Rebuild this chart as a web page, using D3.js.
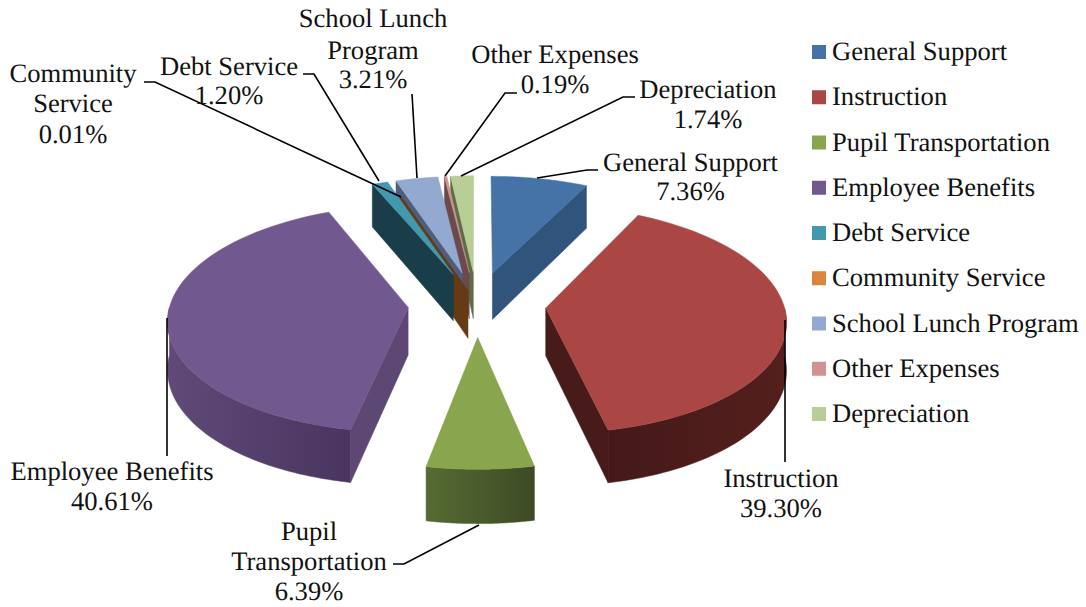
<!DOCTYPE html>
<html>
<head>
<meta charset="utf-8">
<script src="https://cdn.jsdelivr.net/npm/d3@7"></script>
<style>
    html, body { margin: 0; padding: 0; background: #fff; }
    svg { display: block; }
    text { font-family: "Liberation Serif", serif; font-size: 26.6px; fill: #111; text-rendering: geometricPrecision; }
</style>
</head>
<body>
<div id="chart"></div>
<script>
// Data
const categories = ['General Support', 'Instruction', 'Pupil Transportation', 'Employee Benefits', 'Debt Service', 'Community Service', 'School Lunch Program', 'Other Expenses', 'Depreciation'];
const values = [7.36, 39.30, 6.39, 40.61, 1.20, 0.01, 3.21, 0.19, 1.74];
const labelNames = [['General Support'], ['Instruction'], ['Pupil', 'Transportation'], ['Employee Benefits'], ['Debt Service'], ['Community', 'Service'], ['School Lunch', 'Program'], ['Other Expenses'], ['Depreciation']];

// Colours
const topColors = ['#4572A7', '#AA4643', '#89A54E', '#71588F', '#4198AF', '#DB843D', '#93A9CF', '#D19392', '#B9CD96'];
const sideColors = ['#30547C', '#471B19', '#566B33', '#5C4873', '#1A3D4A', '#653A14', '#505E7E', '#6B4A4C', '#5E6C48'];
const rimStart = ['#30547C', '#45191A', '#566B33', '#5F4A78', '#1A3D4A', '#653A14', '#505E7E', '#6B4A4C', '#5E6C48'];
const rimEnd = ['#30547C', '#541F1C', '#3D4A24', '#4A3560', '#1A3D4A', '#653A14', '#505E7E', '#6B4A4C', '#5E6C48'];

// Label layout: centre x, first baseline
const labelX = [690.5, 781, 309, 112, 229, 73, 373, 555, 708];
const labelBaselines = [[171, 200], [487, 517], [540, 570, 600], [480, 510], [75, 104], [82, 112, 143], [27, 59, 88], [63, 93], [98, 128]];
const leaders = [
    [[598, 170], [587, 170], [537, 178]],
    [[785, 320], [785, 462]],
    [[393, 564], [404, 564], [479, 525]],
    [[167, 318], [167, 456]],
    [[303, 74], [314, 74], [379, 181]],
    [[144, 82], [155, 82], [401, 197]],
    [[412, 94], [417, 178]],
    [[517, 93], [505, 93], [445, 176]],
    [[635, 97], [623, 97], [461, 176]]
];

const width = 1086;
const height = 607;
const cx = 477;
const cy = 304;
const radiusX = 238;
const radiusY = 112;
const depth = 47.5;
const perspective = 0.0976;
const explode = 0.29;
const communityExplode = 0.12; // that sliver sits closer to the middle in the original

const xScale = d3.scaleLinear().domain([-1, 1]).range([cx - radiusX, cx + radiusX]);
const yScale = d3.scaleLinear().domain([-1, 1]).range([cy - radiusY, cy + radiusY]);
const legendY = d3.scalePoint().domain(categories).range([52, 414]);

const svg = d3.select('#chart').append('svg')
    .attr('width', width)
    .attr('height', height);
const defs = svg.append('defs');

// ground plane -> screen, gy grows towards the viewer
function project(gx, gy, dropped) {
    const s = 1 / (1 - perspective * gy);
    return [xScale(gx * s), yScale(gy * s) + (dropped ? depth * s : 0)];
}

function rimPoint(slice, angle, dropped) {
    const off = slice.offset;
    return project(
        off * Math.sin(slice.mid) + Math.sin(angle),
        -off * Math.cos(slice.mid) - Math.cos(angle),
        dropped
    );
}

function apexPoint(slice, dropped) {
    return project(slice.offset * Math.sin(slice.mid), -slice.offset * Math.cos(slice.mid), dropped);
}

function rimPoints(slice, from, to, dropped) {
    return d3.range(0, 61).map(i => rimPoint(slice, from + (to - from) * i / 60, dropped));
}

const line = d3.line();
const closed = pts => line(pts) + 'Z';

const slices = d3.pie().sort(null).value(d => d).startAngle(0).endAngle(2 * Math.PI)(values)
    .map((d, i) => ({
        index: i,
        start: d.startAngle,
        end: d.endAngle,
        mid: (d.startAngle + d.endAngle) / 2,
        offset: categories[i] === 'Community Service' ? communityExplode : explode
    }));

// far slices first
const drawOrder = slices.slice().sort((a, b) => Math.cos(b.mid) - Math.cos(a.mid));

const pieG = svg.append('g');

drawOrder.forEach(slice => {
    const i = slice.index;
    const g = pieG.append('g').attr('class', 'slice');

    // outer wall, only the part facing us
    const from = Math.max(slice.start, Math.PI / 2);
    const to = Math.min(slice.end, 3 * Math.PI / 2);
    if (to > from) {
        const edgeTop = rimPoints(slice, from, to, false);
        const edgeBottom = rimPoints(slice, from, to, true).reverse();
        const xs = d3.extent(edgeTop, p => p[0]);
        // gradient runs left to right on screen, whichever way the angle goes
        const grad = defs.append('linearGradient')
            .attr('id', 'rim' + i)
            .attr('gradientUnits', 'userSpaceOnUse')
            .attr('x1', xs[0]).attr('x2', xs[1])
            .attr('y1', 0).attr('y2', 0);
        grad.append('stop').attr('offset', 0).attr('stop-color', rimStart[i]);
        grad.append('stop').attr('offset', 1).attr('stop-color', rimEnd[i]);
        g.append('path')
            .attr('d', closed(edgeTop.concat(edgeBottom)))
            .attr('fill', 'url(#rim' + i + ')')
            .attr('stroke', 'url(#rim' + i + ')')
            .attr('stroke-width', 0.5);
    }

    // radial walls
    const walls = [];
    if (Math.sin(slice.start) < 0) walls.push(slice.start);
    if (Math.sin(slice.end) > 0.001) walls.push(slice.end);
    walls.forEach(angle => {
        g.append('path')
            .attr('d', closed([
                apexPoint(slice, false),
                rimPoint(slice, angle, false),
                rimPoint(slice, angle, true),
                apexPoint(slice, true)
            ]))
            .attr('fill', sideColors[i])
            .attr('stroke', sideColors[i])
            .attr('stroke-width', 0.5);
    });

    // top face
    g.append('path')
        .attr('d', closed([apexPoint(slice, false)].concat(rimPoints(slice, slice.start, slice.end, false))))
        .attr('fill', topColors[i])
        .attr('stroke', categories[i] === 'Community Service' ? sideColors[i] : topColors[i])
        .attr('stroke-width', categories[i] === 'Community Service' ? 1.5 : 0.5);
});

// leader lines
svg.append('g')
    .selectAll('path')
    .data(leaders)
    .join('path')
    .attr('d', d => line(d))
    .attr('fill', 'none')
    .attr('stroke', '#000')
    .attr('stroke-width', 1.6);

// data labels
const labels = svg.append('g')
    .selectAll('text')
    .data(categories)
    .join('text')
    .attr('text-anchor', 'middle');

labels.each(function (d, i) {
    const lines = labelNames[i].concat(d3.format('.2f')(values[i]) + '%');
    d3.select(this).selectAll('tspan')
        .data(lines)
        .join('tspan')
        .attr('x', labelX[i])
        .attr('y', (l, j) => labelBaselines[i][j])
        .text(l => l);
});

// legend
const legend = svg.append('g')
    .selectAll('g')
    .data(categories)
    .join('g')
    .attr('transform', d => 'translate(812,' + legendY(d) + ')');

legend.append('rect')
    .attr('x', 0)
    .attr('y', -7)
    .attr('width', 14)
    .attr('height', 14)
    .attr('fill', (d, i) => topColors[i]);

legend.append('text')
    .attr('x', 20)
    .attr('y', 8)
    .text(d => d);
</script>
</body>
</html>
